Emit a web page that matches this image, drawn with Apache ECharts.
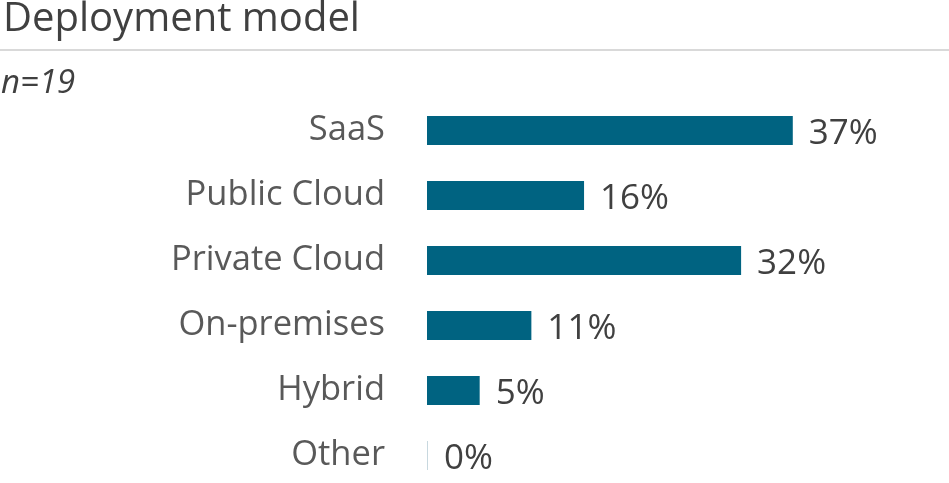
<!DOCTYPE html>
<html><head><meta charset="utf-8">
<script src="https://cdn.jsdelivr.net/npm/echarts@6/dist/echarts.min.js"></script>
<style>html,body{margin:0;padding:0;background:#fff}#c{width:949px;height:483px}</style>
</head><body><div id="c"></div>
<script>
const categories = ['SaaS', 'Public Cloud', 'Private Cloud', 'On-premises', 'Hybrid', 'Other'];
const values = [36.8, 15.8, 31.6, 10.5, 5.3, 0];
const titleText = 'Deployment model';
const subText = 'n=19';

const chart = echarts.init(document.getElementById('c'));
chart.setOption({
  animation: false,
  graphic: [
    { type: 'text', left: 3, top: 0, style: { text: titleText, font: '40px "Open Sans"', fill: '#404040' } },
    { type: 'line', shape: { x1: 0, y1: 50, x2: 949, y2: 50 }, style: { stroke: '#d9d9d9', lineWidth: 2 } },
    { type: 'text', left: 1, top: 67, style: { text: subText, font: 'italic 33px "Open Sans"', fill: '#404040' } }
  ],
  grid: { left: 427, top: 98, width: 497, height: 390, outerBoundsMode: 'none' },
  xAxis: { type: 'value', min: 0, max: 50, show: false },
  yAxis: {
    type: 'category', data: categories, inverse: true,
    axisLine: { show: false }, axisTick: { show: false },
    axisLabel: { fontFamily: 'Open Sans', fontSize: 34.5, color: '#595959', margin: 42, padding: [0, 0, 2, 0] }
  },
  series: [{
    type: 'bar', barWidth: 29, barMinHeight: 1,
    data: values.map(v => v === 0 ? { value: v, itemStyle: { color: '#c8d8df' } } : v),
    itemStyle: { color: '#006381' },
    label: {
      show: true, position: 'right', distance: 16, offset: [0, 4],
      fontFamily: 'Open Sans', fontSize: 35, color: '#404040',
      formatter: p => Math.round(p.value) + '%'
    }
  }]
});
</script></body></html>
